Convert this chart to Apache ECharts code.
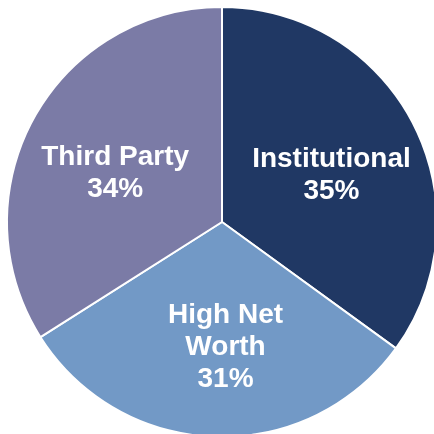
<!DOCTYPE html>
<html>
<head>
<meta charset="utf-8">
<script src="https://cdn.jsdelivr.net/npm/echarts@6/dist/echarts.min.js"></script>
<style>
  html, body { margin: 0; padding: 0; background: #fff; }
  #main { width: 434px; height: 434px; }
</style>
</head>
<body>
<div id="main"></div>
<script>
const categories = ['Institutional', 'High Net\nWorth', 'Third Party'];
const shares = [35, 31, 34];
const colors = ['#203864', '#7299C6', '#7B7BA6'];
// nudge labels toward where they sit in the original
const labelShift = [[11, 3], [7, 15], [-10, 5]];

const myChart = echarts.init(document.getElementById('main'));
let option = {
  animation: false,
  series: [
    {
      type: 'pie',
      center: [222, 222],
      radius: 215,
      startAngle: 90,
      clockwise: true,
      itemStyle: {
        borderColor: '#fff',
        borderWidth: 2
      },
      label: {
        show: true,
        position: 'inside',
        formatter: '{b}\n{c}%',
        color: '#fff',
        fontFamily: 'Liberation Sans, Arial, sans-serif',
        fontWeight: 'bold',
        fontSize: 28,
        lineHeight: 32
      },
      labelLine: { show: false },
      labelLayout: function (params) {
        const s = labelShift[params.dataIndex];
        return { dx: s[0], dy: s[1] };
      },
      emphasis: { disabled: true },
      data: categories.map((name, i) => ({
        name: name,
        value: shares[i],
        itemStyle: { color: colors[i] }
      }))
    }
  ]
};
option && myChart.setOption(option);
</script>
</body>
</html>
